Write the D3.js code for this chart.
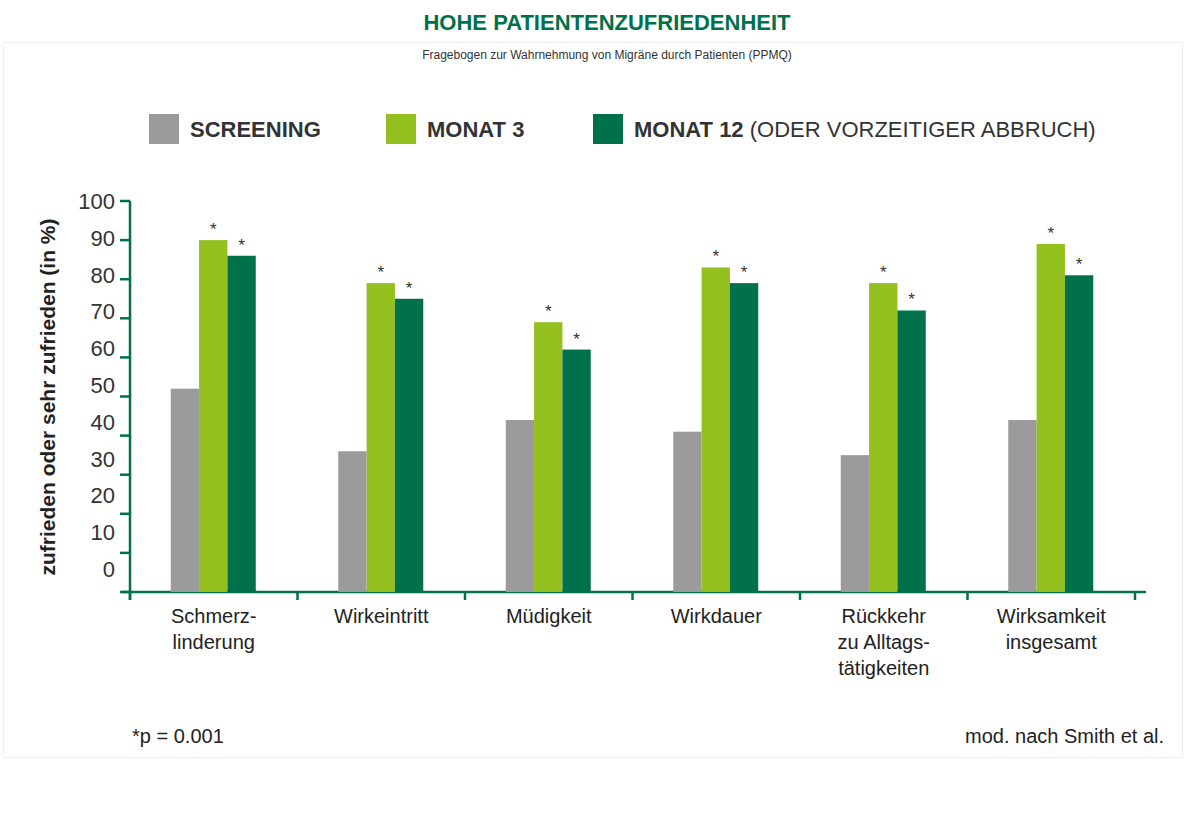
<!DOCTYPE html>
<html><head><meta charset="utf-8">
<script src="https://cdn.jsdelivr.net/npm/d3@7"></script>
<style>body{margin:0;background:#fff;font-family:"Liberation Sans",Arial,sans-serif}</style>
</head><body><svg id="c" width="1186" height="817"></svg>
<script>
const categories=[["Schmerz-","linderung"],["Wirkeintritt"],["Müdigkeit"],["Wirkdauer"],["Rückkehr","zu Alltags-","tätigkeiten"],["Wirksamkeit","insgesamt"]];
const screening=[52,36,44,41,35,44];
const monat3=[90,79,69,83,79,89];
const monat12=[86,75,62,79,72,81];
const yTicks=[0,10,20,30,40,50,60,70,80,90,100];
const seriesNames=["screening","monat3","monat12"];
const colors={screening:"#9b9b9b",monat3:"#93c01f",monat12:"#00714a"};
const green="#00714a";
const svg=d3.select("#c");
svg.append("rect").attr("x",3.5).attr("y",42.5).attr("width",1179).attr("height",715).attr("fill","none").attr("stroke","#eee");
svg.append("text").attr("x",607).attr("y",30).attr("text-anchor","middle").attr("fill",green).attr("font-weight","bold").attr("font-size",22).text("HOHE PATIENTENZUFRIEDENHEIT");
svg.append("text").attr("x",607).attr("y",59).attr("text-anchor","middle").attr("fill","#333").attr("font-size",12).text("Fragebogen zur Wahrnehmung von Migräne durch Patienten (PPMQ)");
// legend
const leg=[{k:"screening",x:149,t:[["SCREENING","bold"]]},{k:"monat3",x:386,t:[["MONAT 3","bold"]]},{k:"monat12",x:593,t:[["MONAT 12 ","bold"],["(ODER VORZEITIGER ABBRUCH)","normal"]]}];
leg.forEach(l=>{svg.append("rect").attr("x",l.x).attr("y",114).attr("width",30).attr("height",30).attr("fill",colors[l.k]);
 const t=svg.append("text").attr("x",l.x+41).attr("y",137).attr("font-size",22).attr("fill","#333");
 l.t.forEach(s=>t.append("tspan").attr("font-weight",s[1]).text(s[0]));});
const y=d3.scaleLinear().domain([0,100]).range([592,201]);
const yLab=d3.scaleLinear().domain([0,100]).range([569,201]);
const x=d3.scaleBand().domain(d3.range(categories.length)).range([130,1135]);
const xs=d3.scaleBand().domain(seriesNames).range([0,85]);
// axes
const g=svg.append("g").attr("stroke",green).attr("stroke-width",2.5);
g.append("line").attr("x1",122).attr("x2",1146).attr("y1",592).attr("y2",592);
g.append("line").attr("x1",130).attr("x2",130).attr("y1",201).attr("y2",600);
yTicks.forEach(v=>g.append("line").attr("x1",120).attr("x2",130).attr("y1",y(v)).attr("y2",y(v)));
d3.range(categories.length+1).forEach(i=>{const xx=i<categories.length?x(i):x.range()[1];g.append("line").attr("x1",xx).attr("x2",xx).attr("y1",592).attr("y2",600);});
yTicks.forEach(v=>svg.append("text").attr("x",115).attr("y",yLab(v)+8).attr("text-anchor","end").attr("font-size",22).attr("fill","#333").text(v));
svg.append("text").attr("transform","translate(55,397) rotate(-90)").attr("text-anchor","middle").attr("font-size",21).attr("font-weight","bold").attr("fill","#222").text("zufrieden oder sehr zufrieden (in %)");
const data={screening,monat3,monat12};
categories.forEach((c,i)=>{
 const x0=x(i)+x.bandwidth()/2-43;
 seriesNames.forEach(s=>{const v=data[s][i];
  svg.append("rect").attr("x",x0+xs(s)).attr("y",y(v)).attr("width",xs.bandwidth()).attr("height",y(0)-y(v)).attr("fill",colors[s]);
  if(s!=="screening")svg.append("text").attr("x",x0+xs(s)+xs.bandwidth()/2).attr("y",y(v)-5).attr("text-anchor","middle").attr("font-size",17).attr("fill","#333").text("*");});
 const t=svg.append("text").attr("text-anchor","middle").attr("font-size",20).attr("fill","#222");
 c.forEach((line,j)=>t.append("tspan").attr("x",x(i)+x.bandwidth()/2).attr("y",623+j*26).text(line));
});
svg.append("text").attr("x",132).attr("y",743).attr("font-size",20).attr("fill","#222").text("*p = 0.001");
svg.append("text").attr("x",1164).attr("y",743).attr("text-anchor","end").attr("font-size",20).attr("fill","#222").text("mod. nach Smith et al.");
</script></body></html>
